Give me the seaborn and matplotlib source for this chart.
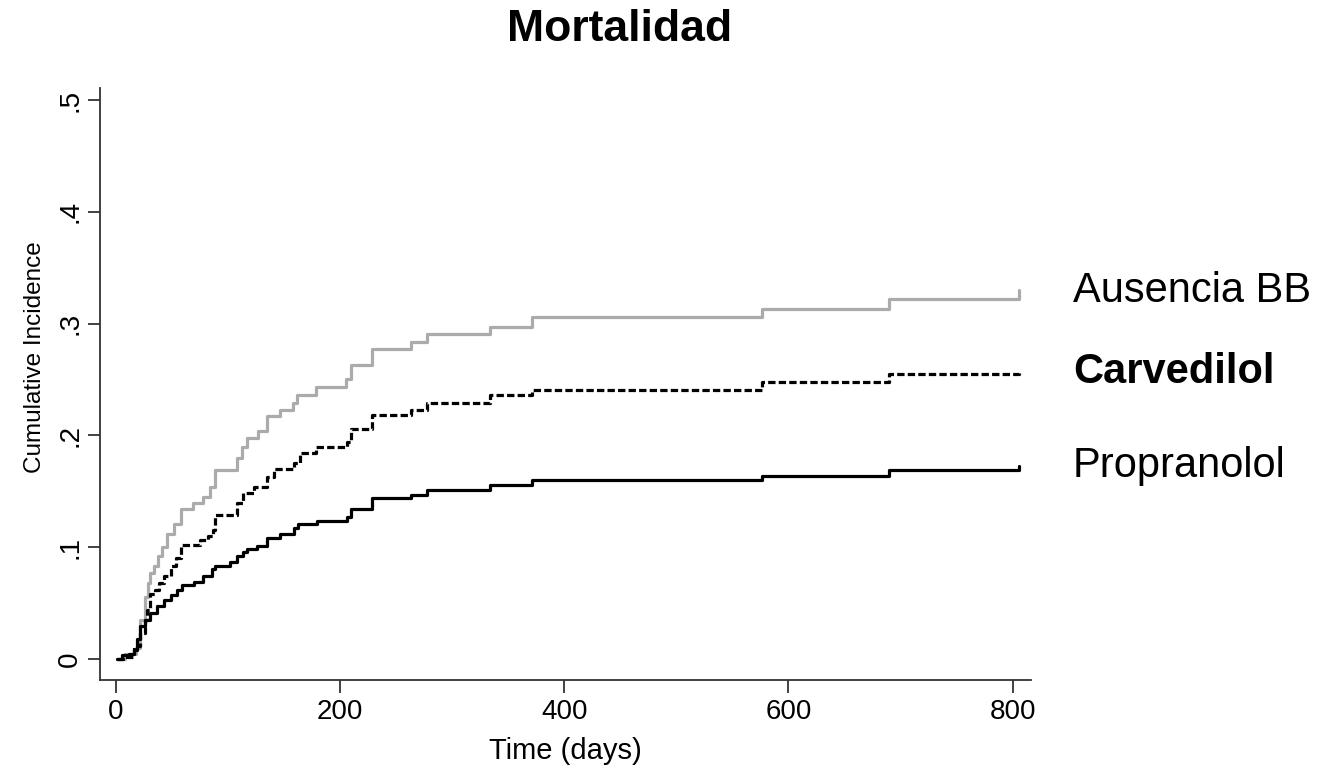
#!/usr/bin/env python3
import matplotlib
matplotlib.use("Agg")
import matplotlib.pyplot as plt
import pandas as pd
import seaborn as sns

# cumulative incidence step curves (days, value after each event)
ausencia_days = [1, 8, 14, 18, 22, 26, 29, 31, 34, 38, 41, 46, 52, 58, 69, 78, 84, 89,
                 108, 113, 117, 127, 135, 147, 158, 162, 179, 205, 210, 229, 263, 278,
                 334, 371, 576, 690, 806]
ausencia_ci = [0.0, 0.004, 0.004, 0.010, 0.035, 0.055, 0.068, 0.077, 0.083, 0.092, 0.100,
               0.112, 0.121, 0.134, 0.139, 0.145, 0.154, 0.169, 0.180, 0.190, 0.198, 0.204,
               0.217, 0.223, 0.229, 0.236, 0.243, 0.250, 0.263, 0.277, 0.284, 0.291,
               0.297, 0.306, 0.313, 0.322, 0.330]

carvedilol_days = [1, 10, 16, 22, 26, 28, 31, 35, 39, 43, 49, 54, 58, 75, 82, 87, 89, 108,
                   114, 123, 135, 141, 159, 164, 179, 206, 210, 229, 263, 278, 334, 371,
                   576, 690, 806]
carvedilol_ci = [0.0, 0.002, 0.011, 0.023, 0.035, 0.044, 0.058, 0.062, 0.068, 0.074, 0.083,
                 0.090, 0.102, 0.106, 0.110, 0.115, 0.129, 0.139, 0.148, 0.154, 0.163, 0.170,
                 0.175, 0.184, 0.190, 0.194, 0.206, 0.218, 0.223, 0.229, 0.236, 0.241,
                 0.248, 0.255, 0.258]

propranolol_days = [1, 6, 12, 16, 19, 22, 26, 31, 37, 43, 49, 55, 59, 70, 78, 86, 89, 102,
                    108, 114, 117, 126, 135, 147, 159, 163, 180, 206, 210, 229, 263, 278,
                    334, 371, 576, 690, 806]
propranolol_ci = [0.0, 0.003, 0.004, 0.008, 0.018, 0.029, 0.035, 0.041, 0.047, 0.053, 0.057,
                  0.062, 0.066, 0.069, 0.074, 0.080, 0.083, 0.087, 0.092, 0.096, 0.098, 0.101,
                  0.108, 0.112, 0.117, 0.121, 0.123, 0.127, 0.134, 0.144, 0.147, 0.151,
                  0.156, 0.160, 0.164, 0.169, 0.173]

groups = ["Ausencia BB", "Carvedilol", "Propranolol"]
x_ticks = [0, 200, 400, 600, 800]
y_ticks = [0, 0.1, 0.2, 0.3, 0.4, 0.5]
y_tick_labels = ["0", ".1", ".2", ".3", ".4", ".5"]


def main() -> None:
    sns.set_theme(style="ticks")
    plt.rcParams["font.family"] = ["Liberation Sans", "DejaVu Sans"]
    plt.rcParams.update({
        "text.color": "black",
        "axes.labelcolor": "black",
        "axes.edgecolor": "#333333",
        "axes.linewidth": 1.3,
        "xtick.color": "#333333",
        "ytick.color": "#333333",
        "xtick.labelcolor": "black",
        "ytick.labelcolor": "black",
    })

    series = {
        "Ausencia BB": (ausencia_days, ausencia_ci),
        "Carvedilol": (carvedilol_days, carvedilol_ci),
        "Propranolol": (propranolol_days, propranolol_ci),
    }
    styles = {
        "Ausencia BB": dict(color="#ababab", linestyle="-"),
        "Carvedilol": dict(color="black", linestyle=(0, (2.3, 1.0))),
        "Propranolol": dict(color="black", linestyle="-"),
    }

    fig = plt.figure(figsize=(13.22, 7.76), dpi=100)
    ax = fig.add_axes([0.0756, 0.1237, 0.704, 0.763])

    for name in groups:
        days, ci = series[name]
        df = pd.DataFrame({"days": days, "ci": ci})
        sns.lineplot(data=df, x="days", y="ci", ax=ax, estimator=None, sort=False,
                     drawstyle="steps-post", linewidth=2.3, **styles[name])

    ax.set_xlim(-14, 816)
    ax.set_ylim(-0.019, 0.511)
    ax.set_xticks(x_ticks)
    ax.set_yticks(y_ticks)
    ax.set_yticklabels(y_tick_labels, rotation=90, va="center")
    ax.tick_params(axis="both", length=9, width=1.3, labelsize=20, pad=5)
    ax.tick_params(axis="y", pad=3)
    ax.set_xlabel("Time (days)", fontsize=21, labelpad=8)
    ax.set_ylabel("Cumulative Incidence", fontsize=17.5)
    ax.yaxis.set_label_coords(-0.058, 0.545)
    sns.despine(ax=ax)

    fig.text(0.469, 0.962, "Mortalidad", fontsize=32, fontweight="bold",
             ha="center", va="center")
    fig.text(0.8117, 0.6112, "Ausencia BB", fontsize=30, ha="left", va="baseline")
    fig.text(0.8117, 0.506, "Carvedilol", fontsize=30, fontweight="bold",
             ha="left", va="baseline")
    fig.text(0.8117, 0.3857, "Propranolol", fontsize=30, ha="left", va="baseline")

    fig.savefig("out.png", dpi=100, facecolor="white")
    plt.close(fig)


if __name__ == "__main__":
    main()
